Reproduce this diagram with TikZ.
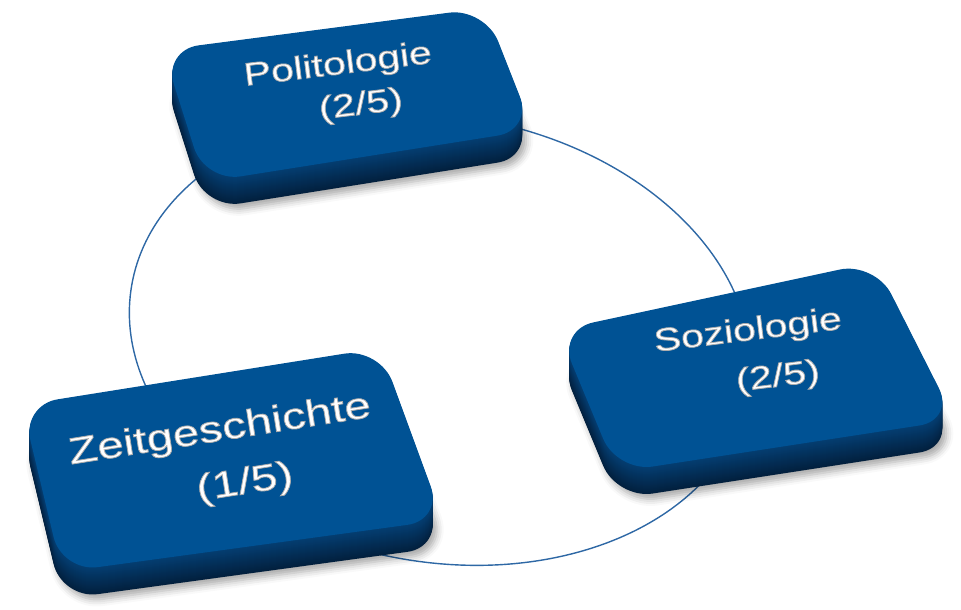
\documentclass[tikz,border=0pt]{standalone}
\usepackage{fontspec}
\setmainfont{Liberation Sans}
\newfontfamily\slabfont[FakeStretch=1.28]{Liberation Sans}
\usetikzlibrary{shadows.blur}

\definecolor{facecol}{RGB}{0,82,148}
\definecolor{sidedark}{RGB}{2,32,62}
\definecolor{sidelight}{RGB}{4,62,114}
\definecolor{ringcol}{RGB}{46,104,165}

\tikzset{
  ring/.style={ringcol, line width=1.4pt},
  slabside/.style={rounded corners=36pt},
  slabface/.style={fill=facecol, rounded corners=36pt},
  label/.style={text=white, font=\slabfont\fontsize{32}{38}\selectfont, inner sep=0pt},
  biglabel/.style={label, font=\slabfont\fontsize{37}{44}\selectfont},
}

% raised white letters with grey rim
\newcommand{\raised}[1]{\special{pdf:literal direct 2 Tr 0.8 w 0.68 0.68 0.68 RG}#1\special{pdf:literal direct 0 Tr}}

% slab with the four corners of its top face
\newcommand{\slab}[4]{%
  \fill[slabside, sidedark, blur shadow={shadow xshift=4pt, shadow yshift=-5pt, shadow blur radius=7pt, shadow opacity=35}, shift={(0,27)}]
    #1 -- #2 -- #3 -- #4 -- cycle;
  \foreach \d in {26,25,...,1}{
    \pgfmathtruncatemacro{\mix}{100*\d/27}
    \fill[slabside, sidedark!\mix!sidelight, shift={(0,\d)}] #1 -- #2 -- #3 -- #4 -- cycle;
  }
  \fill[slabface] #1 -- #2 -- #3 -- #4 -- cycle;
}

\begin{document}
\begin{tikzpicture}[x=1pt, y=-1pt]
    \useasboundingbox (0,0) rectangle (961,610);

    %% ring behind the three slabs
    \coordinate (hub) at (440,339);
    \draw[ring, rotate around={-10:(hub)}] (hub) ellipse [x radius=313pt, y radius=223pt];

    %% slabs
    \slab{(163,50)}{(485,8)}{(533,130)}{(205,182)}
    \slab{(558,330)}{(875,262)}{(955,420)}{(617,472)}
    \slab{(22,405)}{(380,348)}{(443,520)}{(62,572)}

    %% labels
    \node[label, rotate=7] (polname) at (338,66) {\raised{Politologie}};
    \node[label, rotate=7] (polshare) at (361,106) {\raised{(2/5)}};

    \node[label, rotate=7] (sozname) at (748,332) {\raised{Soziologie}};
    \node[label, rotate=7] (sozshare) at (778,378) {\raised{(2/5)}};

    \node[biglabel, rotate=9] (zeitname) at (220,431) {\raised{Zeitgeschichte}};
    \node[biglabel, rotate=9] (zeitshare) at (245,484) {\raised{(1/5)}};
\end{tikzpicture}
\end{document}
